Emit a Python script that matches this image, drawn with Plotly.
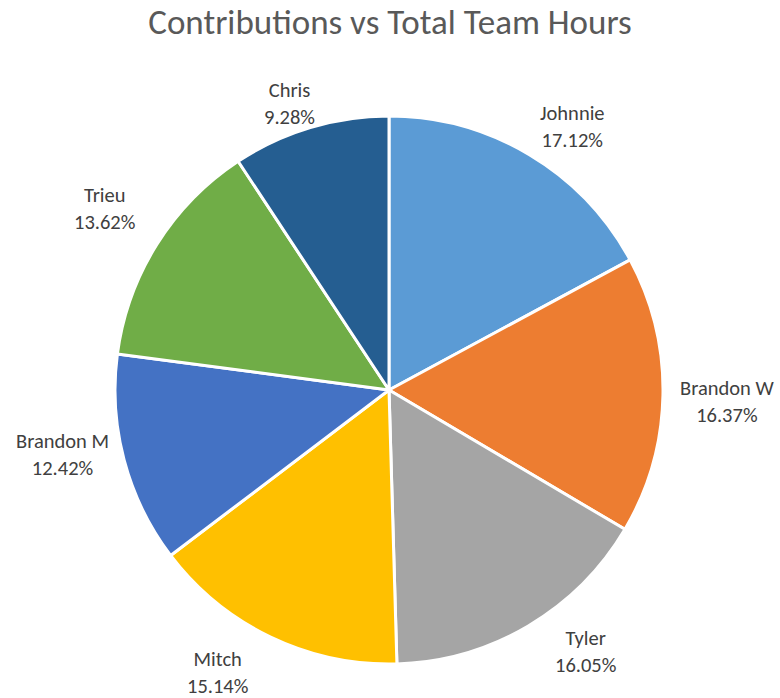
import math
import plotly.graph_objects as go

# ---- data ----
names = ["Johnnie", "Brandon W", "Tyler", "Mitch", "Brandon M", "Trieu", "Chris"]
shares = [17.12, 16.37, 16.05, 15.14, 12.42, 13.62, 9.28]

# ---- style ----
colors = ["#5B9BD5", "#ED7D31", "#A5A5A5", "#FFC000", "#4472C4", "#70AD47", "#255E91"]
# label placement (Excel "best fit"): angular nudge from slice mid-angle (deg), radius factor
label_nudge = [4.0, 0.8, -6.3, 5.7, 3.7, 0.5, -2.4]
label_rf = [1.173, 1.234, 1.194, 1.205, 1.216, 1.231, 1.108]

W, H = 780, 698
cx, cy, R = 389, 390, 274  # pixel geometry of the pie within the figure
FONT = "Calibri, Lato, Open Sans, sans-serif"

fig = go.Figure(go.Pie(
    labels=names, values=shares, sort=False, direction="clockwise", rotation=0,
    marker=dict(colors=colors, line=dict(color="white", width=3)),
    textinfo="none", hoverinfo="label+percent", showlegend=False,
    domain=dict(x=[(cx - R) / W, (cx + R) / W], y=[(H - cy - R) / H, (H - cy + R) / H]),
))

total = sum(shares)
cum = 0.0
annotations = []
for n, v, nd, rf in zip(names, shares, label_nudge, label_rf):
    mid = (cum + v / 2) / total * 360.0 + nd
    cum += v
    a = math.radians(mid)
    d = rf * R
    px = cx + d * math.sin(a)
    py = cy - d * math.cos(a)
    annotations.append(dict(
        x=px / W, y=1 - py / H, xref="paper", yref="paper",
        text=f"{n}<br>{v:.2f}%", showarrow=False,
        xanchor="center", yanchor="middle",
        font=dict(size=20.5, color="#404040", family=FONT),
    ))

fig.update_layout(
    width=W, height=H, margin=dict(l=0, r=0, t=0, b=0),
    paper_bgcolor="white", plot_bgcolor="white",
    title=dict(text="Contributions vs Total Team Hours", x=0.5, xanchor="center",
               y=1 - 22 / H, yanchor="middle",
               font=dict(size=35, color="#595959", family=FONT)),
    annotations=annotations,
)

fig.write_html("out.html", config={"displayModeBar": False},
               post_script="document.body.style.margin='0';")
